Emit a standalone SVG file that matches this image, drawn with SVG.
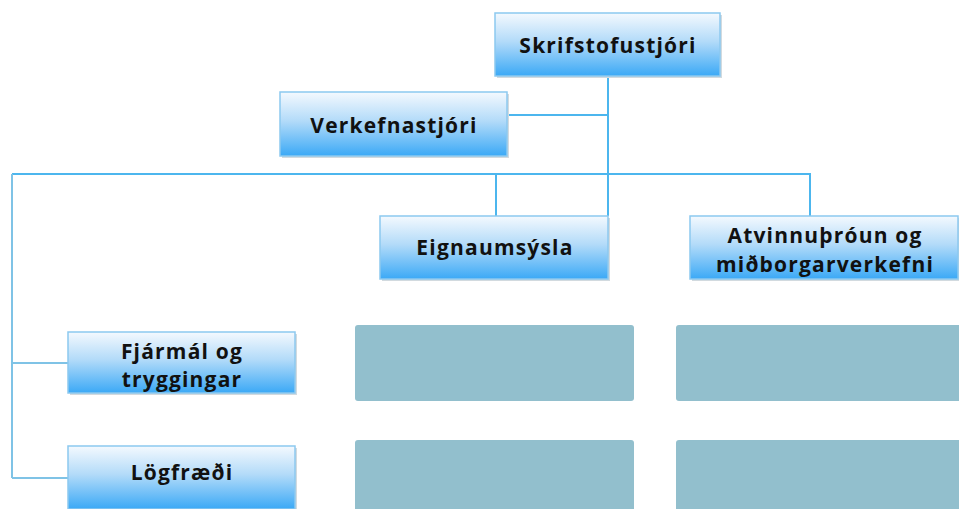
<svg xmlns="http://www.w3.org/2000/svg" width="959" height="509" viewBox="0 0 959 509">
<defs>
<linearGradient id="bg" x1="0" y1="0" x2="0" y2="1">
<stop offset="0" stop-color="#f4f9fe"/>
<stop offset="0.45" stop-color="#b3dbf9"/>
<stop offset="1" stop-color="#3ba9f6"/>
</linearGradient>
</defs>
<style>
.box{fill:url(#bg);stroke:#8cc9ef;stroke-width:1.5}
.sh{fill:#d2dadf}
.t{font-family:"Open Sans","DejaVu Sans",sans-serif;font-weight:bold;font-size:21px;fill:#111;text-anchor:middle;letter-spacing:1.2px}
.c{stroke:#4cb6ee;stroke-width:2;fill:none}
.c2{stroke:#7fc3e6;stroke-width:2;fill:none}
.tl{fill:#92bfcd}
</style>
<rect width="959" height="509" fill="#fff"/>
<g id="connectors">
<path class="c" d="M608 76 V216"/>
<path class="c" d="M507 115 H608"/>
<path class="c" d="M12 174 H810 V216"/>
<path class="c" d="M496 174 V216"/>
<path class="c2" d="M12 174 V478"/>
<path class="c2" d="M12 363 H68"/>
<path class="c2" d="M12 478 H68"/>
</g>
<g id="n-skrifstofustjori">
<rect class="sh" x="497" y="15" width="225" height="63"/>
<rect class="box" x="495" y="13" width="225" height="63"/>
<text class="t" x="608" y="53">Skrifstofustjóri</text>
</g>
<g id="n-verkefnastjori">
<rect class="sh" x="282" y="94" width="227" height="64"/>
<rect class="box" x="280" y="92" width="227" height="64"/>
<text class="t" x="394" y="133">Verkefnastjóri</text>
</g>
<g id="n-eignaumsysla">
<rect class="sh" x="382" y="218" width="228" height="63"/>
<rect class="box" x="380" y="216" width="228" height="63"/>
<text class="t" x="495" y="255">Eignaumsýsla</text>
</g>
<g id="n-atvinnuthroun">
<rect class="sh" x="692" y="218" width="268" height="63"/>
<rect class="box" x="690" y="216" width="268" height="63"/>
<text class="t" x="825" y="243">Atvinnuþróun og</text>
<text class="t" x="825" y="272">miðborgarverkefni</text>
</g>
<g id="n-fjarmal">
<rect class="sh" x="70" y="334" width="227" height="61"/>
<rect class="box" x="68" y="332" width="227" height="61"/>
<text class="t" x="182" y="359">Fjármál og</text>
<text class="t" x="182" y="387">tryggingar</text>
</g>
<g id="n-logfraedi">
<rect class="sh" x="70" y="448" width="227" height="63"/>
<rect class="box" x="68" y="446" width="227" height="63"/>
<text class="t" x="182" y="480">Lögfræði</text>
</g>
<g id="n-empty1"><rect class="tl" x="355" y="325" width="279" height="76" rx="3"/></g>
<g id="n-empty2"><rect class="tl" x="676" y="325" width="290" height="76" rx="3"/></g>
<g id="n-empty3"><rect class="tl" x="355" y="440" width="279" height="76" rx="3"/></g>
<g id="n-empty4"><rect class="tl" x="676" y="440" width="290" height="76" rx="3"/></g>
</svg>
